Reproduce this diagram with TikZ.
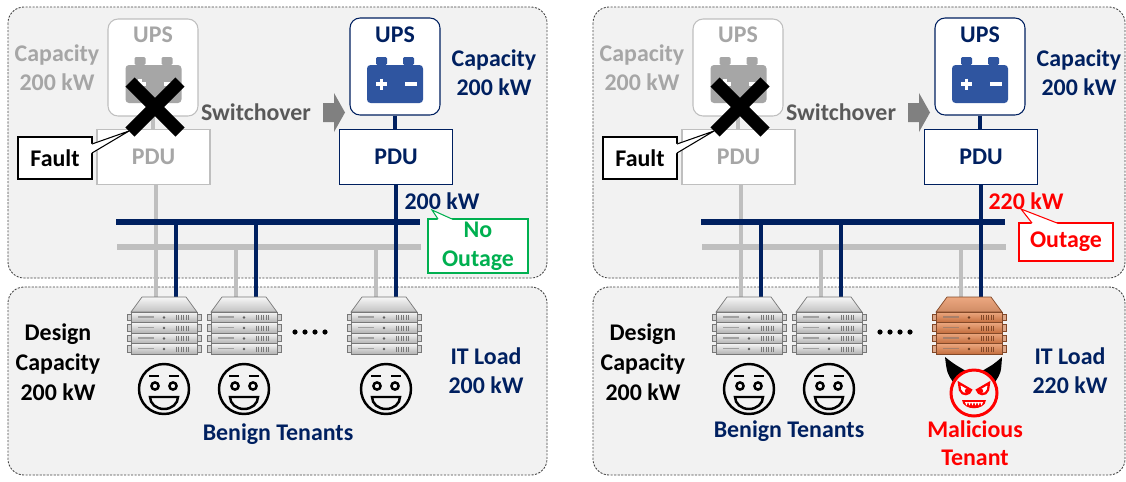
\documentclass[tikz,border=0pt]{standalone}
\usepackage{fontspec}
\setmainfont{Carlito}
\usetikzlibrary{positioning}
\definecolor{panelBg}{RGB}{242,242,242}
\definecolor{panelLine}{RGB}{70,70,70}
\definecolor{navy}{RGB}{0,32,96}
\definecolor{battBlue}{RGB}{47,85,160}
\definecolor{fadeGray}{RGB}{166,166,166}
\definecolor{lineGray}{RGB}{191,191,191}
\definecolor{swGray}{RGB}{89,89,89}
\definecolor{arrGray}{RGB}{128,128,128}
\definecolor{okGreen}{RGB}{0,176,80}
\definecolor{alarmRed}{RGB}{255,0,0}
\definecolor{srvgrayhi}{RGB}{246,246,246}
\definecolor{srvgraylo}{RGB}{178,178,178}
\definecolor{srvgrayedge}{RGB}{120,120,120}
\definecolor{srvorangehi}{RGB}{236,168,128}
\definecolor{srvorangelo}{RGB}{196,110,62}
\definecolor{srvorangeedge}{RGB}{130,72,40}

\tikzset{
  % rack server, anchored at the middle of its top edge
  pics/server/.style={code={
    \draw[top color=srv#1hi, bottom color=srv#1lo!80, draw=srv#1edge, line width=0.4pt]
      (-22,0) -- (22,0) -- (33,15) -- (-33,15) -- cycle;
    \foreach \u in {0,...,3}{
      \pgfmathsetmacro\yy{15+\u*10.5}
      \filldraw[fill=srv#1lo!60, draw=srv#1edge, line width=0.3pt]
        (-37,\yy+2) rectangle (-33,\yy+8.5) (33,\yy+2) rectangle (37,\yy+8.5);
      \draw[top color=srv#1hi, bottom color=srv#1lo, draw=srv#1edge, line width=0.4pt]
        (-33,\yy) rectangle (33,\yy+10.5);
      \draw[srv#1edge!70, line width=0.9pt] (-26,\yy+5) -- (-10,\yy+5);
      \fill[srv#1edge!80!black] (0,\yy+5.5) circle (1.3);
      \foreach \v in {12,14.5,...,25}
        \draw[srv#1edge, line width=0.3pt] (\v,\yy+3) -- (\v,\yy+8);
    }
  }},
  % battery symbol, anchored at the centre of its body
  pics/battery/.style={code={
    \fill[#1, rounded corners=0.8pt] (-19,-27) rectangle (-8,-19) (8,-27) rectangle (19,-19);
    \fill[#1, rounded corners=2pt] (-28,-19) rectangle (28,19);
    \draw[white, line width=2.2pt] (-19,0) -- (-8,0) (-13.5,-5.5) -- (-13.5,5.5) (10,0) -- (22,0);
  }},
  pics/happy/.style={code={
    \draw[line width=1.4pt] (0,0) circle (25);
    \draw[line width=1.4pt] (-15,-13) -- (-5,-13) (5,-13) -- (15,-13);
    \draw[line width=1.4pt] (-9,-3) circle (3.6) (9,-3) circle (3.6);
    \draw[line width=1.4pt] (-14,8) -- (14,8) arc[start angle=0, end angle=180, x radius=14, y radius=12] -- cycle;
  }},
  pics/devil/.style={code={
    \fill[black] (-21,-11) .. controls (-27,-20) .. (-29,-36) .. controls (-20,-29) .. (-8,-22) -- cycle;
    \fill[black] (21,-11) .. controls (27,-20) .. (28,-36) .. controls (20,-29) .. (8,-22) -- cycle;
    \draw[alarmRed, fill=panelBg, line width=1.7pt] (0,0) circle (23);
    \draw[alarmRed, fill=white, line width=1.3pt] (-15,-10) -- (-3,-3) .. controls (-4,2) and (-12,3) .. (-14,-3) -- cycle;
    \draw[alarmRed, fill=white, line width=1.3pt] (15,-10) -- (3,-3) .. controls (4,2) and (12,3) .. (14,-3) -- cycle;
    \fill[alarmRed] (-7,-2) circle (2.2) (7,-2) circle (2.2);
    \fill[alarmRed] (-12,7) -- (12,7) .. controls (11,18) and (-11,18) .. (-12,7) -- cycle;
    \fill[white] (-9,9) -- (-7.5,12.5) -- (-6,9) -- (-4.5,12.5) -- (-3,9) -- (-1.5,12.5) -- (0,9)
      -- (1.5,12.5) -- (3,9) -- (4.5,12.5) -- (6,9) -- (7.5,12.5) -- (9,9) -- cycle;
  }},
}

\begin{document}
\begin{tikzpicture}[x=0.02cm, y=-0.02cm,
  lbl/.style={font=\fontsize{13.6}{16.4}\selectfont\bfseries, align=center, inner sep=0pt},
  panel/.style={draw=panelLine, fill=panelBg, dash pattern=on 1.2pt off 0.8pt, line width=0.5pt, rounded corners=0.32cm},
  upsbox/.style={draw=#1, fill=white, rounded corners=0.2cm, line width=0.6pt, minimum width=1.8cm, minimum height=1.94cm},
  pdubox/.style={draw=#1, fill=white, line width=0.6pt, minimum width=2.26cm, minimum height=1.1cm},
  callbox/.style={draw=#1, fill=white, line width=0.6pt, inner sep=0pt},
  ptr/.style={draw=#1, line width=0.6pt},
  gwire/.style={draw=lineGray, line width=2.8pt},
  nwire/.style={draw=navy, line width=2.8pt},
  gbus/.style={draw=lineGray, line width=3.4pt},
  nbus/.style={draw=navy, line width=3.4pt},
  xmark/.style={draw=black, line width=7.4pt},
]
\useasboundingbox (0,0) rectangle (1126,481);

% the parts both panels share
\foreach \p/\dx/\pw in {L/0/547, R/585/540}{
\begin{scope}[shift={(\dx,0)}, name prefix=\p-]
  \draw[panel] (8,7) rectangle (\pw,278);
  \draw[panel] (8,287) rectangle (\pw,475);

  % failed UPS and its PDU
  \node[upsbox=lineGray] (ups0) at (153,67.5) {};
  \node[lbl, fadeGray] at (153,35) {UPS};
  \pic at (153.5,84) {battery=fadeGray};
  \node[pdubox=lineGray, lbl, text=fadeGray] (pdu0) at (153.5,157) {PDU};
  \draw[gwire] (ups0.south) -- (ups0.south |- pdu0.north);
  \node[lbl, fadeGray] at (57,67.5) {Capacity\\200 kW};

  % backup UPS and its PDU
  \node[upsbox=navy] (ups1) at (395,66.5) {};
  \node[lbl, navy] at (395,35) {UPS};
  \pic at (395,84) {battery=battBlue};
  \node[pdubox=navy, lbl, text=navy] (pdu1) at (396,157) {PDU};
  \draw[nwire] (ups1.south) -- (ups1.south |- pdu1.north);
  \node[lbl, navy] at (494,73) {Capacity\\200 kW};

  \node[lbl, swGray] (sw) at (256,112) {Switchover};
  \fill[arrGray] (323,103) -- (334,103) -- (334,93) -- (345,112.5) -- (334,132) -- (334,122) -- (323,122) -- cycle;

  % feeds down to the racks
  \coordinate (nbW) at (116,222); \coordinate (nbE) at (420,222);
  \coordinate (gbW) at (117,247); \coordinate (gbE) at (421,247);
  \foreach \c [count=\k] in {164,244,384}{
    \coordinate (g\k) at (\c-8,297);
    \coordinate (n\k) at (\c+12,297);
  }
  \draw[gbus] (gbW) -- (gbE);
  \draw[gwire] (pdu0.south -| g1) -- (g1);
  \draw[gwire] (g2 |- gbW) -- (g2);
  \draw[gwire] (g3 |- gbW) -- (g3);
  \draw[nbus] (nbW) -- (nbE);
  \draw[nwire] (n1 |- nbW) -- (n1);
  \draw[nwire] (n2 |- nbW) -- (n2);
  \draw[nwire] (pdu1.south -| n3) -- (n3);

  % fault mark
  \draw[xmark] (130,82) -- (180,132) (130,132) -- (180,82);
  \node[callbox=black, lbl, minimum width=1.48cm, minimum height=0.84cm] (fault) at (55,158) {Fault};
  \coordinate (ftip) at (129,131);
  \coordinate (fa) at (92,144); \coordinate (fb) at (92,153);
  \fill[white] (fa) ++(-1,0) -- (ftip) -- (fb) -- ++(-1,0) -- cycle;
  \draw[ptr=black] (fa) -- (ftip) -- (fb);

  % racks and tenants
  \pic at (164,297) {server=gray};
  \pic at (244,297) {server=gray};
  \foreach \d in {0,...,3} \fill (295+\d*10,332) circle (2.6);
  \pic at (164,389) {happy};
  \pic at (244,389) {happy};
  \node[lbl, font=\fontsize{13.6}{17}\selectfont\bfseries] at (58,362) {Design\\Capacity\\200 kW};
\end{scope}
}

% normal case
\begin{scope}[name prefix=L-]
  \node[lbl, navy] (kw) at (442,201) {200 kW};
  \node[callbox=okGreen, lbl, text=okGreen, minimum width=2cm, minimum height=1.08cm] (call) at (478,246) {No\\Outage};
  \coordinate (ctip) at (432,210);
  \coordinate (ca) at (438,219); \coordinate (cb) at (452,219);
  \fill[white] (ca) ++(0,1) -- (ctip) -- (cb) -- ++(0,1) -- cycle;
  \draw[ptr=okGreen] (ca) -- (ctip) -- (cb);
  \pic at (384,297) {server=gray};
  \pic at (386,389) {happy};
  \node[lbl, navy] at (486,371) {IT Load\\200 kW};
  \node[lbl, navy] at (278,434) {Benign Tenants};
\end{scope}

% attack case
\begin{scope}[shift={(585,0)}, name prefix=R-]
  \node[lbl, alarmRed] (kw) at (441,201) {220 kW};
  \node[callbox=alarmRed, lbl, text=alarmRed, minimum width=1.88cm, minimum height=0.76cm] (call) at (481,242) {Outage};
  \coordinate (ctip) at (436,209);
  \coordinate (ca) at (447,223); \coordinate (cb) at (472,223);
  \fill[white] (ca) ++(0,1) -- (ctip) -- (cb) -- ++(0,1) -- cycle;
  \draw[ptr=alarmRed] (ca) -- (ctip) -- (cb);
  \pic at (384,297) {server=orange};
  \pic at (389,393) {devil};
  \node[lbl, alarmRed, font=\fontsize{13.6}{16}\selectfont\bfseries] at (390,443) {Malicious\\Tenant};
  \node[lbl, navy] at (485,371) {IT Load\\220 kW};
  \node[lbl, navy] at (204,431) {Benign Tenants};
\end{scope}
\end{tikzpicture}
\end{document}
